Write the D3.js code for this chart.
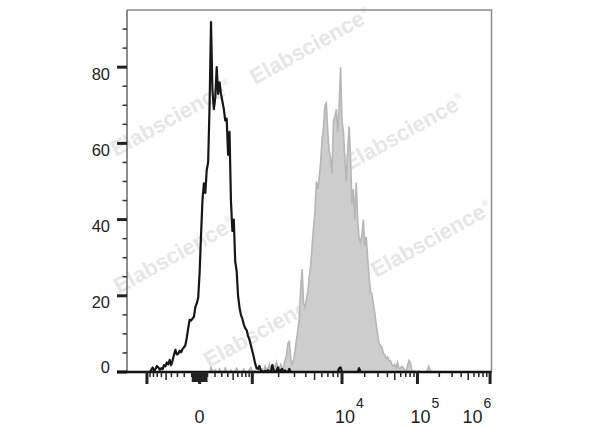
<!DOCTYPE html>
<html><head><meta charset="utf-8">
<script src="https://cdn.jsdelivr.net/npm/d3@7"></script>
<style>html,body{margin:0;padding:0;background:#fff;} svg{display:block;}</style>
</head><body>
<svg id="chart" width="600" height="427"></svg>
<script>
// ---------- DATA ----------
// histogram channels (256-channel display axis), counts per channel
const isotypeStart = 16;
const isotypeCounts = [
  0, 0.5, 1.2, 0.3, 0.8, 1.6, 1.2, 0.6, 1.0, 0.7,
  1.8, 1.5, 2.5, 2.0, 3.2, 1.8, 3.0, 4.5, 5.8, 4.6,
  4.8, 5.6, 5.2, 6.0, 6.5, 7.0, 9.0, 11.5, 13.7, 13.5,
  14.0, 14.5, 17.0, 18.0, 19.5, 26, 36, 45, 49.5, 47,
  53, 55, 70, 91.8, 74, 69, 72, 80, 73, 76,
  73, 71, 69, 66, 66.5, 57, 63, 45, 37, 40,
  29, 26.5, 20, 17, 15, 14, 12.5, 11.5, 11, 9.5,
  8.5, 7, 5.5, 4.0, 2.2, 1.0, 0.8, 1.6, 0.4, 0.2,
  0, 0.3, 0, 0.5, 0, 0, 1.8, 0.4, 0, 0.3,
  1.2, 0, 0.5, 0.8, 0, 0.4, 0, 0, 0.8, 0,
  0, 0, 0, 0, 0, 0, 0, 0, 0, 0,
  0, 0, 0, 0, 0, 0, 0, 0, 0, 0,
  0, 0, 0, 0, 0, 0, 0, 0, 0, 0,
  0, 0, 0, 1.0, 1.2, 0, 0, 0, 0, 0,
  0, 0, 0, 0, 0, 0, 0, 1.0, 0, 0,
  0, 0, 0, 0, 0
];
const stainedStart = 58;
const stainedCounts = [
  0, 1.2, 0.4, 0, 0.6, 0, 0, 0.8, 0.2, 0,
  0, 1.0, 0.3, 0, 0, 0.5, 0, 0, 0.4, 1.0,
  0.2, 0, 0, 0.3, 0.8, 0, 0, 0, 0.6, 1.2,
  0.3, 0, 0.4, 0, 0, 0.5, 0.3, 0.8, 0, 1.5,
  0.5, 1.0, 2.0, 0.6, 1.2, 1.8, 0.8, 2.6, 1.4, 1.0,
  2.0, 0.8, 1.5, 3.0, 4.5, 7.5, 8.0, 3.5, 2.0, 3.0,
  5.5, 8.5, 11, 14, 22, 27, 18, 17, 19, 21,
  25, 28, 33, 38, 42, 50, 48, 51, 55, 61,
  64, 70, 70.6, 63, 58, 56, 52, 66, 67, 69,
  63, 70, 80, 66, 63, 56, 50, 58, 64.5, 56,
  44, 48, 40, 49.7, 40, 35, 34, 36, 40, 33,
  35.5, 30, 25, 21, 20.5, 18, 15.5, 12.5, 10, 7.5,
  7, 6.5, 5, 4.5, 3.5, 4, 3, 3, 2, 1.5,
  2, 1.2, 2.5, 1, 1, 1.5, 1.2, 0.5, 0.3, 1.5,
  3, 2.5, 0.5, 0, 0.3, 0, 0, 0.3, 0, 0,
  0, 0, 0, 0.5, 1.5, 0.4, 0, 0
];
const yMajorTicks = [0, 20, 40, 60, 80];
const yMinorTicks = [5, 10, 15, 25, 30, 35, 45, 50, 55, 65, 70, 75, 85, 90];
const xMajorTickValues = [-1000, 0, 1000, 10000, 100000, 1000000];
const xMajorTickChannels = [14, 51, 88, 151, 204, 255];
const xLabelBase = ["", "0", "", "10", "10", "10"];
const xLabelExp = ["", "", "", "4", "5", "6"];
const watermarkText = "Elabscience";

// ---------- LAYOUT ----------
const W = 600, H = 427;
const margin = {left: 127, top: 10, right: 108.5, bottom: 55};
const iw = W - margin.left - margin.right, ih = H - margin.top - margin.bottom;
const font = "'Liberation Sans', Arial, Helvetica, sans-serif";

const svg = d3.select("#chart");
svg.append("rect").attr("width", W).attr("height", H).attr("fill", "#fff");

const x = d3.scaleLinear().domain([0, 256]).range([margin.left, margin.left + iw]);
const y = d3.scaleLinear().domain([0, 95]).range([margin.top + ih, margin.top]);
const T = v => Math.asinh(v / 400);
const valueToChannel = d3.scaleLinear().domain(xMajorTickValues.map(T)).range(xMajorTickChannels);
const xv = v => x(valueToChannel(T(v)));

// watermarks
const wm = [[255, 85], [116, 157], [349, 171], [119, 294], [376, 278], [209, 368]];
const wmg = svg.append("g");
wm.forEach(([wx, wy]) => {
  const t = wmg.append("text")
    .attr("transform", `translate(${wx},${wy}) rotate(-29)`)
    .attr("font-family", font).attr("font-weight", "bold").attr("font-size", 22)
    .attr("fill", "#e6e6e6");
  t.append("tspan").text(watermarkText);
  t.append("tspan").attr("font-size", 9).attr("dy", -10).attr("dx", 1).text("\u00AE");
});

// series
const stained = stainedCounts.map((c, i) => [stainedStart + i, c]);
const isotype = isotypeCounts.map((c, i) => [isotypeStart + i, c]);

svg.append("path").datum(stained)
  .attr("d", d3.area().x(d => x(d[0])).y0(y(0)).y1(d => y(d[1])))
  .attr("fill", "#cdcdcd").attr("stroke", "none");
svg.append("path").datum(stained)
  .attr("d", d3.line().x(d => x(d[0])).y(d => y(d[1])))
  .attr("fill", "none").attr("stroke", "#b6b6b6").attr("stroke-width", 1.6);
svg.append("path").datum(isotype)
  .attr("d", d3.line().x(d => x(d[0])).y(d => y(d[1])))
  .attr("fill", "none").attr("stroke", "#161616").attr("stroke-width", 2.2).attr("stroke-linejoin", "round");

// frame
const x0 = margin.left, x1 = margin.left + iw, y0 = margin.top, y1 = margin.top + ih;
svg.append("path").attr("d", `M${x0},${y0}H${x1}V${y1}`).attr("fill", "none").attr("stroke", "#8a8a8a").attr("stroke-width", 1.5);
svg.append("line").attr("x1", x0).attr("x2", x0).attr("y1", y0).attr("y2", y1).attr("stroke", "#666").attr("stroke-width", 1.5);

// y ticks
const ya = svg.append("g");
yMinorTicks.forEach(v => ya.append("line").attr("x1", x0 - 4.5).attr("x2", x0).attr("y1", y(v)).attr("y2", y(v)).attr("stroke", "#333").attr("stroke-width", 1.5));
yMajorTicks.forEach(v => {
  ya.append("line").attr("x1", x0 - 10).attr("x2", x0).attr("y1", y(v)).attr("y2", y(v)).attr("stroke", "#222").attr("stroke-width", 3);
  ya.append("text").attr("x", 110).attr("y", v === 0 ? y(v) + 1 : y(v) + 12.5)
    .attr("text-anchor", "end").attr("font-family", font).attr("font-size", 16.5).attr("fill", "#222").text(v);
});

// x axis line
svg.append("line").attr("x1", x0 - 10).attr("x2", x1).attr("y1", y1).attr("y2", y1).attr("stroke", "#111").attr("stroke-width", 2.5);

// x ticks
const xa = svg.append("g");
const minorVals = [];
[1, 10, 100, 1000, 10000, 100000].forEach(dec => {
  for (let m = 2; m <= 9; m++) {
    const v = m * dec;
    if (dec >= 1000 || v < 1000) { minorVals.push(v); }
    if (v < 1000) minorVals.push(-v);
  }
});
[-10, 10, -100, 100].forEach(v => minorVals.push(v));
minorVals.forEach(v => {
  const a = Math.abs(v);
  const lead = a / Math.pow(10, Math.floor(Math.log10(a)));
  let len = 5, sw = 1.5;
  if (a < 100) { len = 10; sw = 1.5; }
  else if (Math.round(lead) === 5) { len = 8; }
  xa.append("line").attr("x1", xv(v)).attr("x2", xv(v)).attr("y1", y1).attr("y2", y1 + len).attr("stroke", "#222").attr("stroke-width", sw);
});
xMajorTickValues.forEach((v, i) => {
  xa.append("line").attr("x1", xv(v)).attr("x2", xv(v)).attr("y1", y1).attr("y2", y1 + 12).attr("stroke", "#222").attr("stroke-width", 3);
  if (!xLabelBase[i]) return;
  const t = xa.append("text").attr("font-family", font).attr("font-size", 18).attr("fill", "#222").attr("y", 423);
  t.append("tspan").text(xLabelBase[i]);
  if (xLabelExp[i]) t.append("tspan").attr("font-size", 14).attr("dy", -15).attr("dx", 1).text(xLabelExp[i]);
  const baseW = t.select("tspan").node().getComputedTextLength();
  const totW = t.node().getBBox().width;
  let tx = xv(v) + (xLabelExp[i] ? 3 : 0) - baseW / 2;
  if (tx + totW > x1) tx = x1 - totW;
  t.attr("x", tx);
});
</script>
</body></html>
